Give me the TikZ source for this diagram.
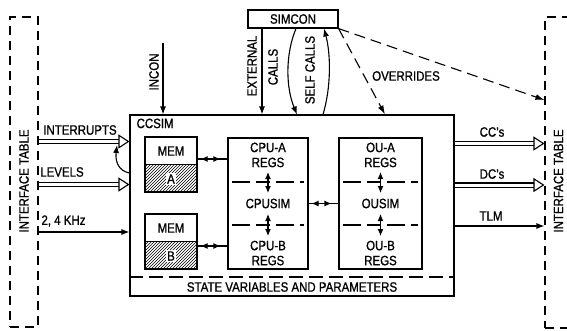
\documentclass[tikz,border=0pt]{standalone}
\usepackage{fontspec}
\setmainfont[FakeStretch=0.85,FakeBold=1]{Liberation Sans}
\usetikzlibrary{arrows.meta,patterns,positioning,calc}
\tikzset{
  box/.style={
    shape = rectangle,
    draw,
    line width = 1.1pt,
    inner sep = 0pt
  },
  itable/.style={
    shape = rectangle,
    draw,
    line width = 1.1pt,
    dash pattern = on 9pt off 6pt,
    inner sep = 0pt
  },
  lbl/.style={
    font = \fontsize{13.5}{13.5}\selectfont,
    inner sep = 1pt
  },
  vlbl/.style={
    font = \fontsize{13.5}{13.5}\selectfont,
    inner sep = 1pt,
    rotate = 90
  },
  sig/.style={
    line width = 1.1pt,
    -{Latex[length=8pt,width=6pt]}
  },
  bus/.style={
    line width = 1.1pt,
    double,
    double distance = 3pt,
    -{Triangle[open,length=11pt,width=14pt,fill=white]}
  },
  link/.style={
    line width = 1.1pt,
    {Latex[length=7pt,width=6pt]}-{Latex[length=7pt,width=6pt]}
  },
  ovr/.style={
    line width = 1.1pt,
    dash pattern = on 11pt off 6pt,
    -{Latex[length=9pt,width=6pt]}
  },
  cut/.style={
    line width = 1.1pt,
    dash pattern = on 18pt off 6pt on 14pt off 6pt
  }
}

\begin{document}
\begin{tikzpicture}[x=1pt,y=-1pt]
    \useasboundingbox (0,0) rectangle (567,330);
    % interface tables
        \node[itable, minimum width=28pt, minimum height=310pt] (ltab) at (24,172) {};
        \node[itable, minimum width=30pt, minimum height=311pt] (rtab) at (560,172.5) {};
        \node[vlbl] at (24,181) {INTERFACE TABLE};
        \node[vlbl] at (558.5,181) {INTERFACE TABLE};
    % ccsim
        \node[box, minimum width=324pt, minimum height=181pt] (ccsim) at (292,205.5) {};
        \node[lbl, anchor=north west] at ($(ccsim.north west)+(6,3)$) {CCSIM};
        \draw[line width=1.1pt, dash pattern=on 14pt off 6pt] (ccsim.west |- 0,277) -- (ccsim.east |- 0,277);
        \node[lbl] at (292,287) {STATE VARIABLES AND PARAMETERS};
    % memories
        \foreach \m/\y/\t in {memA/164.5/A, memB/241.5/B}{
        \node[box, minimum width=52pt, minimum height=54pt] (\m) at (171,\y) {};
        \fill[pattern=north east lines] (\m.west) rectangle (\m.south east);
        \draw[line width=1.1pt] (\m.west) -- (\m.east);
        \draw[line width=1.1pt] (\m.north west) rectangle (\m.south east);
        \node[lbl] at ($(\m.north)+(0,14)$) {MEM};
        \node[lbl, fill=white, inner sep=1.5pt] at ($(\m.south)+(0,-13)$) {\t};
        }
    % cpusim and ousim
        \node[box, minimum width=80pt, minimum height=131pt] (cpu) at (268,203.5) {};
        \node[box, minimum width=83pt, minimum height=131pt] (ou) at (380.5,203.5) {};
        \foreach \n/\a/\b/\c in {cpu/CPU-A/CPUSIM/CPU-B, ou/OU-A/OUSIM/OU-B}{
        \node[lbl] at ($(\n.north)+(0,10)$) {\a};
        \node[lbl] at ($(\n.north)+(0,25)$) {REGS};
        \node[lbl] at (\n) {\b};
        \node[lbl] at ($(\n.south)+(0,-24)$) {\c};
        \node[lbl] at ($(\n.south)+(0,-9)$) {REGS};
        \draw[cut] ($(\n.west)+(5,-21.5)$) -- ($(\n.east)+(-5,-21.5)$);
        \draw[cut] ($(\n.west)+(5,21.5)$) -- ($(\n.east)+(-5,21.5)$);
        \draw[link] ($(\n)+(0,-31.5)$) -- ($(\n)+(0,-10.5)$);
        \draw[link] ($(\n)+(0,10.5)$) -- ($(\n)+(0,32.5)$);
        }
        \foreach \a/\b/\y in {memA/cpu/159, memB/cpu/246, cpu/ou/203.5}{
        \draw[line width=1.1pt] (\a.east |- 0,\y) -- (\b.west |- 0,\y);
        \draw[link, shorten <=3pt, shorten >=7pt] (\a.east |- 0,\y) -- (\b.west |- 0,\y);
        }
    % simcon
        \node[box, minimum width=90pt, minimum height=18pt, lbl] (simcon) at (293,19) {SIMCON};
        \draw[sig] (simcon.south -| 262,0) -- (ccsim.north -| 262,0);
        \node[vlbl] at (252,66) {EXTERNAL};
        \node[vlbl] at (273,67) {CALLS};
        \draw[sig] (simcon.south -| 296,0) .. controls (285,55) and (286,88) .. (ccsim.north -| 297,0);
        \draw[sig] (ccsim.north -| 323,0) .. controls (331,88) and (331,55) .. (simcon.south -| 324,0);
        \node[vlbl] at (310,70) {SELF CALLS};
        \draw[ovr] (simcon.south east) -- (ccsim.north -| 385,0);
        \draw[ovr] (simcon.south east) -- (rtab.west |- 0,100);
        \node[lbl] at (406,76) {OVERRIDES};
    % inputs
        \coordinate (incon) at (163,43);
        \draw[sig] (incon) -- (ccsim.north -| incon);
        \node[vlbl] at (154,72) {INCON};
        \draw[bus] (ltab.east |- 0,141.5) -- (ccsim.west |- 0,141.5);
        \node[lbl] at (80,130) {INTERRUPTS};
        \draw[bus] (ltab.east |- 0,184.5) -- (ccsim.west |- 0,184.5);
        \node[lbl] at (62,172) {LEVELS};
        \draw[sig] (ltab.east |- 0,232) -- (ccsim.west |- 0,232);
        \node[lbl] at (63.5,221) {2, 4 KHz};
        \draw[sig] (ccsim.west |- 0,173) .. controls (119,171) and (115,162) .. (117,145);
    % outputs
        \draw[bus] (ccsim.east |- 0,143.5) -- (rtab.west |- 0,143.5);
        \node[lbl] at (492,132) {CC's};
        \draw[bus] (ccsim.east |- 0,185) -- (rtab.west |- 0,185);
        \node[lbl] at (492,174) {DC's};
        \draw[sig] (ccsim.east |- 0,226) -- (rtab.west |- 0,226);
        \node[lbl] at (491,216) {TLM};
\end{tikzpicture}
\end{document}
